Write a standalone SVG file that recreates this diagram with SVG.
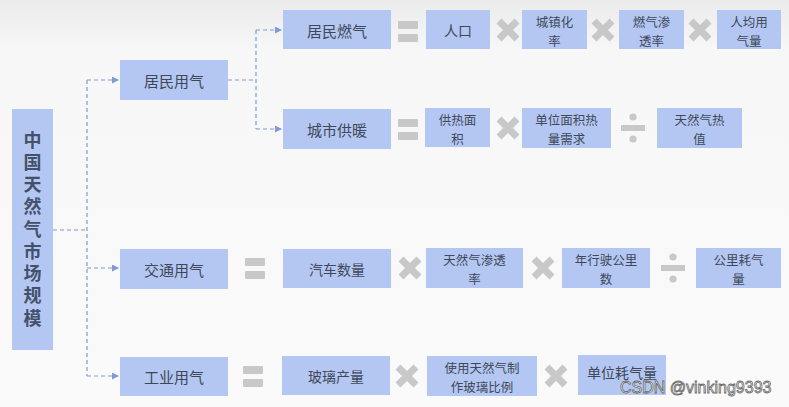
<svg xmlns="http://www.w3.org/2000/svg" width="789" height="407" viewBox="0 0 789 407">
<defs>
<linearGradient id="bg" x1="0" y1="0" x2="0" y2="1">
<stop offset="0" stop-color="#ebebeb"/>
<stop offset="0.12" stop-color="#f7f7f7"/>
<stop offset="1" stop-color="#fafafa"/>
</linearGradient>
<marker id="arr" markerWidth="7" markerHeight="7" refX="6" refY="3.5" orient="auto" markerUnits="userSpaceOnUse">
<path d="M0,0 L7,3.5 L0,7 Z" fill="#7f9ad6"/>
</marker>
<g id="times"><path d="M-9,-9 L9,9 M-9,9 L9,-9" stroke="#c8c8c8" stroke-width="7"/></g>
<g id="eq"><rect x="-10" y="-10" width="20" height="8" rx="1" fill="#c8c8c8"/><rect x="-10" y="3" width="20" height="8" rx="1" fill="#c8c8c8"/></g>
<g id="div"><rect x="-12" y="-3" width="24" height="6" fill="#c8c8c8"/><circle cx="0" cy="-11" r="3.6" fill="#c8c8c8"/><circle cx="0" cy="11" r="3.6" fill="#c8c8c8"/></g>
</defs>
<style>
.box{fill:#b4c7f2;}
.t{font-family:"Noto Sans CJK SC","Noto Sans",sans-serif;fill:#3e4858;text-anchor:middle;dominant-baseline:central;}
.l{font-size:15px;}
.s{font-size:14px;}
.m{font-size:12.5px;}
.main{font-family:"Noto Sans CJK SC",sans-serif;font-size:18px;font-weight:bold;fill:#44516a;writing-mode:vertical-rl;text-anchor:middle;letter-spacing:4.25px;}
.c{fill:none;stroke:#7f9ad6;stroke-width:1.2;stroke-dasharray:4 3;}
</style>
<rect width="789" height="407" fill="url(#bg)"/>

<g id="connectors">
<path class="c" d="M53,230 H87"/>
<path class="c" d="M87,80 V376"/>
<path class="c" d="M87,80 H118" marker-end="url(#arr)"/>
<path class="c" d="M87,268 H118" marker-end="url(#arr)"/>
<path class="c" d="M87,376 H118" marker-end="url(#arr)"/>
<path class="c" d="M228,80 H256"/>
<path class="c" d="M256,30 V129"/>
<path class="c" d="M256,30 H281" marker-end="url(#arr)"/>
<path class="c" d="M256,129 H281" marker-end="url(#arr)"/>
</g>

<g id="main">
<rect class="box" x="12" y="109" width="41" height="241"/>
<text class="main" x="32.5" y="231">中国天然气市场规模</text>
</g>

<g id="jmyq"><rect class="box" x="120" y="60" width="108" height="40"/><text class="t l" x="174" y="80">居民用气</text></g>
<g id="jmrq"><rect class="box" x="283" y="10" width="108" height="39"/><text class="t l" x="337" y="30">居民燃气</text></g>
<g id="csgn"><rect class="box" x="283" y="109" width="108" height="40"/><text class="t l" x="337" y="129">城市供暖</text></g>
<g id="jtyq"><rect class="box" x="120" y="249" width="108" height="40"/><text class="t l" x="174" y="269">交通用气</text></g>
<g id="gyyq"><rect class="box" x="120" y="357" width="108" height="39"/><text class="t l" x="174" y="376">工业用气</text></g>

<!-- row 1 -->
<use href="#eq" x="408" y="31"/>
<g id="rk"><rect class="box" x="426" y="10" width="64" height="39"/><text class="t s" x="458" y="30">人口</text></g>
<use href="#times" x="508" y="30"/>
<g id="czhl"><rect class="box" x="522" y="10" width="65" height="39"/><text class="t m" y="21"><tspan x="554.5">城镇化</tspan><tspan x="554.5" dy="18.5">率</tspan></text></g>
<use href="#times" x="603" y="30"/>
<g id="rqstl"><rect class="box" x="619" y="10" width="65" height="39"/><text class="t m" y="21"><tspan x="651.5">燃气渗</tspan><tspan x="651.5" dy="18.5">透率</tspan></text></g>
<use href="#times" x="700" y="30"/>
<g id="rjyql"><rect class="box" x="717" y="10" width="64" height="39"/><text class="t m" y="21"><tspan x="749">人均用</tspan><tspan x="749" dy="18.5">气量</tspan></text></g>

<!-- row 2 -->
<use href="#eq" x="408" y="129"/>
<g id="grmj"><rect class="box" x="425" y="108" width="65" height="39"/><text class="t m" y="119"><tspan x="457.5">供热面</tspan><tspan x="457.5" dy="18.5">积</tspan></text></g>
<use href="#times" x="508" y="128"/>
<g id="dwmj"><rect class="box" x="522" y="108" width="89" height="40"/><text class="t m" y="119"><tspan x="566.5">单位面积热</tspan><tspan x="566.5" dy="18.5">量需求</tspan></text></g>
<use href="#div" x="633" y="128"/>
<g id="trqrz"><rect class="box" x="657" y="108" width="85" height="40"/><text class="t m" y="119"><tspan x="699.5">天然气热</tspan><tspan x="699.5" dy="18.5">值</tspan></text></g>

<!-- row 3 -->
<use href="#eq" x="255" y="268"/>
<g id="qcsl"><rect class="box" x="283" y="249" width="108" height="39"/><text class="t s" x="337" y="268.5">汽车数量</text></g>
<use href="#times" x="410" y="268"/>
<g id="trqstl"><rect class="box" x="426" y="248" width="97" height="40"/><text class="t m" y="259"><tspan x="474.5">天然气渗透</tspan><tspan x="474.5" dy="18.5">率</tspan></text></g>
<use href="#times" x="543" y="268"/>
<g id="nxs"><rect class="box" x="562" y="248" width="88" height="40"/><text class="t m" y="259"><tspan x="606">年行驶公里</tspan><tspan x="606" dy="18.5">数</tspan></text></g>
<use href="#div" x="673" y="268"/>
<g id="glhql"><rect class="box" x="696" y="248" width="85" height="40"/><text class="t m" y="259"><tspan x="738.5">公里耗气</tspan><tspan x="738.5" dy="18.5">量</tspan></text></g>

<!-- row 4 -->
<use href="#eq" x="253" y="376"/>
<g id="blcl"><rect class="box" x="282" y="356" width="108" height="39"/><text class="t s" x="336" y="375.5">玻璃产量</text></g>
<use href="#times" x="407" y="376"/>
<g id="syblbl"><rect class="box" x="427" y="356" width="110" height="40"/><text class="t m" y="367"><tspan x="482">使用天然气制</tspan><tspan x="482" dy="18.5">作玻璃比例</tspan></text></g>
<use href="#times" x="556" y="376"/>
<g id="dwhql"><rect class="box" x="578" y="355" width="88" height="40"/><text class="t s" x="622" y="372">单位耗气量</text></g>

<text x="620" y="393" font-family="Liberation Sans, sans-serif" font-size="16" fill="#ffffff" stroke="#6a6a6a" stroke-width="0.8">CSDN @vinking9393</text>
</svg>
